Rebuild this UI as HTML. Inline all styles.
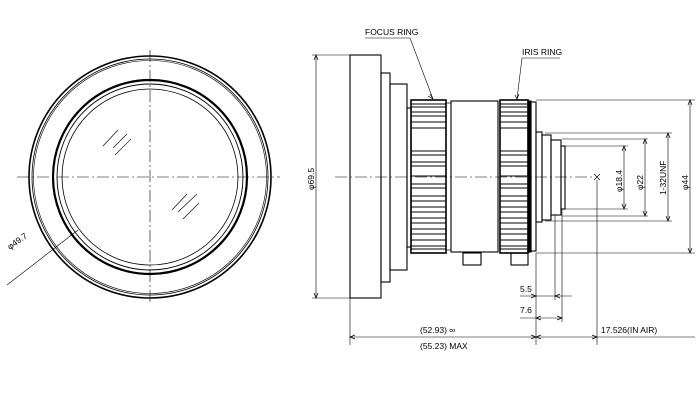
<!DOCTYPE html>
<html><head><meta charset="utf-8"><style>html,body{margin:0;padding:0;background:#fff}svg{display:block}</style></head><body>
<svg width="700" height="400" viewBox="0 0 700 400" xmlns="http://www.w3.org/2000/svg" font-family="Liberation Sans, sans-serif" font-size="8.5" fill="none" stroke="#000">
<!-- Left front view -->
<g>
<circle cx="150" cy="177" r="121" stroke-width="1.6"/>
<circle cx="150" cy="177" r="118" stroke-width="0.8"/>
<circle cx="150" cy="177" r="116.5" stroke-width="0.6"/>
<circle cx="150" cy="177" r="97" stroke-width="2.2"/>
<circle cx="150" cy="177" r="93" stroke-width="0.9"/>
<circle cx="150" cy="177" r="88" stroke-width="0.8"/>
<line x1="17" y1="177" x2="280" y2="177" stroke-width="0.6" stroke-dasharray="12,3,2,3"/>
<line x1="150" y1="50" x2="150" y2="305" stroke-width="0.6" stroke-dasharray="12,3,2,3"/>
<g stroke-width="0.6">
<line x1="103" y1="146" x2="118" y2="130"/><line x1="113" y1="148" x2="127" y2="134"/><line x1="115" y1="155" x2="131" y2="139"/>
<line x1="172" y1="210" x2="187" y2="194"/><line x1="178" y1="212" x2="197" y2="194"/><line x1="183" y1="219" x2="199" y2="203"/>
<line x1="7" y1="285" x2="78" y2="230"/>
</g>
<text x="0" y="0" fill="#000" stroke="none" transform="translate(10,250) rotate(-36)">φ49.7</text>
</g>
<!-- Side view -->
<g stroke-width="1.1">
<rect x="350" y="55" width="31" height="243"/>
<rect x="381" y="73" width="9" height="209"/>
<rect x="390" y="84" width="17" height="186"/>
<rect x="407" y="108" width="4" height="139"/>
<rect x="411" y="100" width="35" height="153" stroke-width="1.6"/>
<rect x="446" y="103" width="5" height="147" stroke-width="0.7"/>
<rect x="451" y="101" width="47" height="151"/>
<rect x="500" y="100" width="28" height="153" stroke-width="1.6"/>
<rect x="528" y="101" width="3" height="151" fill="#000"/>
<rect x="531" y="102" width="5" height="149"/>
<rect x="536" y="132" width="6" height="90"/>
<rect x="542" y="135" width="9" height="85"/>
<rect x="551" y="140" width="10" height="75"/>
<rect x="561" y="146" width="4" height="63"/>
<rect x="463" y="253" width="18" height="12"/>
<rect x="511" y="253" width="17" height="12"/>
</g>
<g stroke-width="1">
<path d="M411 104H446M411 107H446M411 112H446M411 116H446M411 122H446M411 128H446M411 151H446M411 155H446M411 162H446M411 166H446M411 176H446M411 184H446M411 188H446M411 196H446M411 201H446M411 207H446M411 212H446M411 218H446M411 223H446M411 229H446M411 234H446M411 240H446M411 246H446M411 249H446"/>
<path d="M500 104H528M500 107H528M500 112H528M500 116H528M500 122H528M500 128H528M500 151H528M500 155H528M500 162H528M500 166H528M500 176H528M500 184H528M500 188H528M500 196H528M500 201H528M500 207H528M500 212H528M500 218H528M500 223H528M500 229H528M500 234H528M500 240H528M500 246H528M500 249H528"/>
</g>
<line x1="335" y1="177" x2="595" y2="177" stroke-width="0.6" stroke-dasharray="12,3,2,3"/>
<path d="M594 174L600 180M600 174L594 180" stroke-width="0.7"/>
<!-- dimensions -->
<g stroke-width="0.6">
<path d="M312 55H350M312 298H350M316 55V298"/>
<path d="M536 100H695M536 253H695M690 100V253"/>
<path d="M545 133H672M545 221H672M668 133V221"/>
<path d="M562 139H648M562 216H648M645 139V216"/>
<path d="M565 146H628M565 209H628M624 146V209"/>
<path d="M350 298V345M536 253V345M597 180V345M555 215V300M562 209V322"/>
<path d="M520 296H572M520 318H562M350 337H695"/>
<path d="M365 38H410L433 99M522 58H560M522 58L517 99"/>
<g stroke-width="0.7">
<path d="M314 60L316 55L318 60M314 293L316 298L318 293"/>
<path d="M688 105L690 100L692 105M688 248L690 253L692 248"/>
<path d="M666 138L668 133L670 138M666 216L668 221L670 216"/>
<path d="M643 144L645 139L647 144M643 211L645 216L647 211"/>
<path d="M622 151L624 146L626 151M622 204L624 209L626 204"/>
<path d="M531 294L536 296L531 298M560 294L555 296L560 298"/>
<path d="M541 316L536 318L541 320M557 316L562 318L557 320"/>
<path d="M355 335L350 337L355 339M531 335L536 337L531 339M541 335L536 337L541 339M592 335L597 337L592 339"/>
<path d="M430 94L433 99L428 96M519 94L517 99L515 95"/>
</g>
</g>
<g fill="#000" stroke="none">
<text x="365" y="35">FOCUS RING</text>
<text x="522" y="55">IRIS RING</text>
<text x="520" y="292">5.5</text>
<text x="520" y="313">7.6</text>
<text x="420" y="333">(52.93) ∞</text>
<text x="420" y="349">(55.23) MAX</text>
<text x="601" y="333">17.526(IN AIR)</text>
<text transform="translate(314,190) rotate(-90)">φ69.5</text>
<text transform="translate(688,190) rotate(-90)">φ44</text>
<text transform="translate(666,195) rotate(-90)">1-32UNF</text>
<text transform="translate(643,190) rotate(-90)">φ22</text>
<text transform="translate(622,192) rotate(-90)">φ18.4</text>
</g>
</svg>
</body></html>
